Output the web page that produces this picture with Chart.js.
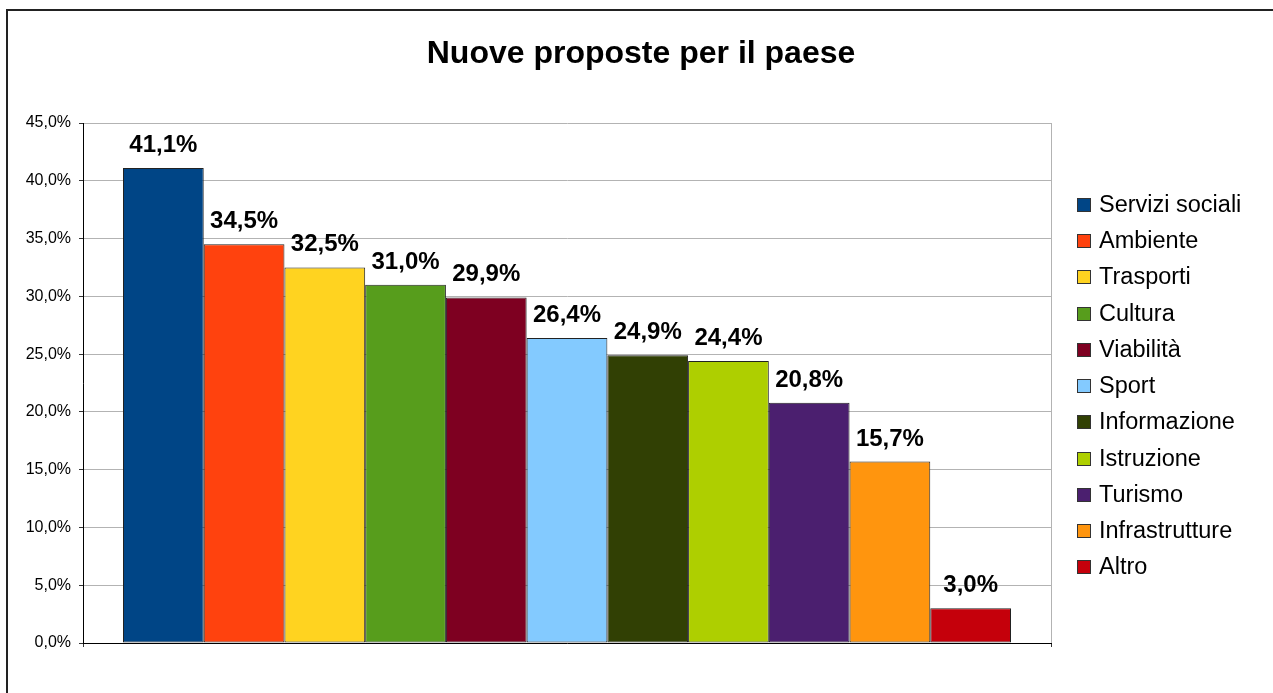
<!DOCTYPE html>
<html><head><meta charset="utf-8">
<script src="https://cdn.jsdelivr.net/npm/chart.js@4.4.1/dist/chart.umd.min.js"></script>
<style>html,body{margin:0;padding:0;background:#fff;overflow:hidden}canvas{display:block}</style>
</head><body>
<canvas id="c" width="1273" height="693"></canvas>
<script>
const chartTitle = 'Nuove proposte per il paese';
const categories = ['Servizi sociali','Ambiente','Trasporti','Cultura','Viabilità','Sport','Informazione','Istruzione','Turismo','Infrastrutture','Altro'];
const values = [41.1, 34.5, 32.5, 31.0, 29.9, 26.4, 24.9, 24.4, 20.8, 15.7, 3.0];
const colors = ['#004586','#ff420e','#ffd320','#579d1c','#7e0021','#83caff','#314004','#aecf00','#4b1f6f','#ff950e','#c5000b'];
const yTickValues = [0, 5, 10, 15, 20, 25, 30, 35, 40, 45];

const FONT = '"Liberation Sans", Arial, sans-serif';
const fmt = v => v.toFixed(1).replace('.', ',') + '%';

const frame = {
  id: 'frame',
  beforeDraw(chart) {
    const ctx = chart.ctx;
    ctx.save();
    ctx.fillStyle = '#fff';
    ctx.fillRect(0, 0, chart.width, chart.height);
    ctx.fillStyle = '#222';
    ctx.fillRect(6, 9, 2, chart.height);
    ctx.fillRect(6, 9, chart.width, 2);
    ctx.restore();
  }
};

const valueLabels = {
  id: 'valueLabels',
  afterDatasetsDraw(chart) {
    const ctx = chart.ctx;
    ctx.save();
    ctx.font = 'bold 24px ' + FONT;
    ctx.fillStyle = '#000';
    ctx.textAlign = 'center';
    ctx.textBaseline = 'alphabetic';
    chart.data.datasets.forEach((ds, i) => {
      const el = chart.getDatasetMeta(i).data[0];
      if (!el) return;
      ctx.fillText(fmt(ds.data[0]), el.x, el.y - 16);
    });
    ctx.restore();
  }
};

const sideLegend = {
  id: 'sideLegend',
  afterDraw(chart) {
    const ctx = chart.ctx;
    const area = chart.chartArea;
    const x0 = area.right + 26;
    const step = 36.25;
    const n = chart.data.datasets.length;
    const yMid = (area.top + area.bottom) / 2 + 3;
    const yStart = yMid - step * (n - 1) / 2;
    ctx.save();
    ctx.font = '23.5px ' + FONT;
    ctx.textBaseline = 'middle';
    ctx.textAlign = 'left';
    chart.data.datasets.forEach((ds, i) => {
      const y = Math.round(yStart + i * step);
      ctx.fillStyle = ds.backgroundColor;
      ctx.fillRect(x0, y - 7, 14, 14);
      ctx.strokeStyle = '#333';
      ctx.lineWidth = 1;
      ctx.strokeRect(x0 + 0.5, y - 6.5, 13, 13);
      ctx.fillStyle = '#000';
      ctx.fillText(ds.label, x0 + 22, y + 1);
    });
    ctx.restore();
  }
};

const datasets = categories.map((c, i) => ({
  label: c,
  data: [values[i]],
  backgroundColor: colors[i],
  borderColor: '#222',
  borderWidth: 1,
  borderSkipped: false,
  categoryPercentage: 888 / 968,
  barPercentage: 1.0
}));

new Chart(document.getElementById('c'), {
  type: 'bar',
  data: { labels: [''], datasets },
  options: {
    responsive: false,
    animation: false,
    devicePixelRatio: 1,
    layout: { padding: { left: 9, right: 0, top: 0, bottom: 0 } },
    plugins: {
      legend: { display: false },
      tooltip: { enabled: false },
      title: {
        display: true,
        text: chartTitle,
        color: '#000',
        font: { family: FONT, size: 32, weight: 'bold' },
        padding: { top: 35, bottom: 49.6 }
      }
    },
    scales: {
      x: {
        type: 'category',
        offset: true,
        grid: { offset: true, display: true, drawOnChartArea: true, color: '#b3b3b3', tickLength: 4, tickColor: '#333' },
        border: { color: '#000', width: 1 },
        ticks: { display: false },
        afterFit(s) { s.height = 50; }
      },
      y: {
        min: yTickValues[0],
        max: yTickValues[yTickValues.length - 1],
        afterBuildTicks(s) { s.ticks = yTickValues.map(v => ({ value: v })); },
        ticks: { color: '#000', font: { family: FONT, size: 16 }, padding: 8, callback: v => fmt(v) },
        grid: { color: '#b3b3b3', tickLength: 4, tickColor: '#333' },
        border: { color: '#000', width: 1 },
        afterFit(s) { s.width = 74; }
      },
      legendSpace: {
        type: 'linear',
        position: 'right',
        display: true,
        grid: { display: false, drawOnChartArea: false },
        border: { display: false },
        ticks: { display: false },
        afterFit(s) { s.width = 222; }
      }
    }
  },
  plugins: [frame, valueLabels, sideLegend]
});
</script>
</body></html>
